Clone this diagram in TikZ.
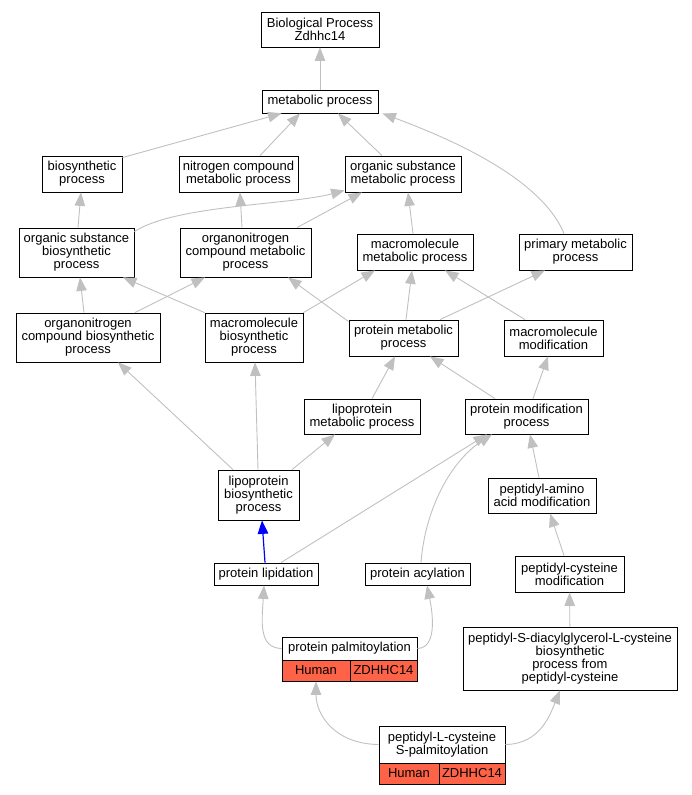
\documentclass[tikz,border=0pt]{standalone}
\usepackage{fontspec}
\setmainfont{Liberation Sans}
\usetikzlibrary{arrows.meta}
\definecolor{edgec}{RGB}{192,192,192}
\definecolor{tomatoc}{RGB}{255,99,71}
\begin{document}
\begin{tikzpicture}[x=1pt,y=-1pt,
  box/.style={draw=black, line width=0.8pt, fill=white, inner sep=0pt, align=center, font=\fontsize{13}{13}\selectfont},
  cell/.style={box, fill=tomatoc},
  edge/.style={draw=edgec, line width=0.9pt, -{Triangle[length=13.5pt,width=10.5pt]}},
  blueedge/.style={draw=blue, line width=1.2pt, -{Triangle[length=13.5pt,width=10.5pt]}}]
\useasboundingbox (0,0) rectangle (692,795);
% nodes
\node[box, minimum width=118, minimum height=35] (bp) at (320,29.5) {Biological Process\\Zdhhc14};
\node[box, minimum width=116, minimum height=23] (met) at (320,101.5) {metabolic process};
\node[box, minimum width=80, minimum height=36] (bio) at (82,174) {biosynthetic\\process};
\node[box, minimum width=119, minimum height=36] (nit) at (238.5,174) {nitrogen compound\\metabolic process};
\node[box, minimum width=116, minimum height=36] (osm) at (403,174) {organic substance\\metabolic process};
\node[box, minimum width=115, minimum height=49] (osb) at (76.5,252.5) {organic substance\\biosynthetic\\process};
\node[box, minimum width=131, minimum height=49] (ocm) at (245.5,252.5) {organonitrogen\\compound metabolic\\process};
\node[box, minimum width=116, minimum height=36] (mmp) at (415,252) {macromolecule\\metabolic process};
\node[box, minimum width=113, minimum height=36] (pmp) at (575.5,252) {primary metabolic\\process};
\node[box, minimum width=144, minimum height=49] (ocb) at (88,337.5) {organonitrogen\\compound biosynthetic\\process};
\node[box, minimum width=98, minimum height=49] (mbp) at (254,337.5) {macromolecule\\biosynthetic\\process};
\node[box, minimum width=109, minimum height=36] (prm) at (403.5,338) {protein metabolic\\process};
\node[box, minimum width=99, minimum height=36] (mmo) at (553.5,338) {macromolecule\\modification};
\node[box, minimum width=116, minimum height=35] (lmp) at (362,416.5) {lipoprotein\\metabolic process};
\node[box, minimum width=123, minimum height=35] (pmo) at (526.5,416.5) {protein modification\\process};
\node[box, minimum width=81, minimum height=50] (lbp) at (258.5,495) {lipoprotein\\biosynthetic\\process};
\node[box, minimum width=108, minimum height=35] (pam) at (542,495.5) {peptidyl-amino\\acid modification};
\node[box, minimum width=104, minimum height=22] (pli) at (266,574) {protein lipidation};
\node[box, minimum width=105, minimum height=22] (pac) at (417.5,574) {protein acylation};
\node[box, minimum width=109, minimum height=36] (pcm) at (569.5,574) {peptidyl-cysteine\\modification};
\node[box, minimum width=135, minimum height=23] (ppa) at (349.5,648.5) {protein palmitoylation};
\node[cell, minimum width=68, minimum height=21] (ppah) at (316,670.5) {Human};
\node[cell, minimum width=67, minimum height=21] (ppag) at (383.5,670.5) {ZDHHC14};
\node[box, minimum width=214, minimum height=63] (psd) at (570,658.5) {peptidyl-S-diacylglycerol-L-cysteine\\biosynthetic\\process from\\peptidyl-cysteine};
\node[box, minimum width=126, minimum height=37] (plc) at (442,744.5) {peptidyl-L-cysteine\\S-palmitoylation};
\node[cell, minimum width=60, minimum height=21] (plch) at (409,773.5) {Human};
\node[cell, minimum width=66, minimum height=21] (plcg) at (472,773.5) {ZDHHC14};
% edges
\draw[edge] (met) -- (bp);
\draw[edge] ([yshift=-2]bio.north east) -- ([xshift=20]met.south west);
\draw[edge] ([xshift=21.5]nit.north) -- ([xshift=-20]met.south);
\draw[edge] ([xshift=-21]osm.north) -- ([xshift=18]met.south);
\draw[edge] ([xshift=-11.5]pmp.north) .. controls (540,175) and (440,135) .. ([xshift=4]met.south east);
\draw[edge] ([xshift=1.5]osb.north) -- ([xshift=-1]bio.south);
\draw[edge] ([yshift=-4]osb.north east) .. controls (175,205) and (290,205) .. ([yshift=2]osm.south west);
\draw[edge] ([xshift=-3.5]ocm.north) -- ([xshift=1.5]nit.south);
\draw[edge] ([xshift=51.5]ocm.north) -- ([xshift=-41]osm.south);
\draw[edge] ([xshift=-2]mmp.north) -- ([xshift=5]osm.south);
\draw[edge] ([xshift=-4]ocb.north) -- ([xshift=3.5]osb.south);
\draw[edge] ([xshift=47]ocb.north) -- ([xshift=-40.5]ocm.south);
\draw[edge] (mbp.north west) -- ([xshift=46.5]osb.south);
\draw[edge] (mbp.north east) -- ([xshift=-40]mmp.south);
\draw[edge] ([yshift=-2]prm.north west) -- ([xshift=42.5]ocm.south);
\draw[edge] ([xshift=2.5]prm.north) -- ([xshift=-3]mmp.south);
\draw[edge] ([xshift=36.5]prm.north) -- ([xshift=-30.5]pmp.south);
\draw[edge] ([xshift=-28.5]mmo.north) -- ([xshift=30]mmp.south);
\draw[edge] ([xshift=10]lmp.north) -- ([xshift=-8.5]prm.south);
\draw[edge] ([xshift=-31.5]pmo.north) -- ([xshift=26.5]prm.south);
\draw[edge] ([xshift=6.5]pmo.north) -- ([xshift=-5.5]mmo.south);
\draw[edge] ([xshift=-25.5]lbp.north) -- ([xshift=30]ocb.south);
\draw[edge] ([xshift=-0.5]lbp.north) -- ([xshift=1]mbp.south);
\draw[edge] ([xshift=33.5]lbp.north) -- ([xshift=-27]lmp.south);
\draw[edge] ([xshift=-3]pam.north) -- ([xshift=3.5]pmo.south);
\draw[blueedge] ([xshift=-1]pli.north) -- ([xshift=3.5]lbp.south);
\draw[edge] ([xshift=15]pli.north) -- ([xshift=-39.5]pmo.south);
\draw[edge] ([xshift=3.5]pac.north) .. controls (425,510) and (450,462) .. ([xshift=-34.5]pmo.south);
\draw[edge] ([xshift=-5.5]pcm.north) -- ([xshift=8]pam.south);
\draw[edge] (ppa.west) .. controls (258,648) and (262,620) .. ([xshift=-2]pli.south);
\draw[edge] (ppa.east) .. controls (437,648) and (433,615) .. ([xshift=9.5]pac.south);
\draw[edge] (psd) -- (pcm);
\draw[edge] (plc.west) .. controls (335,744) and (316,715) .. (ppah.south);
\draw[edge] (plc.east) .. controls (540,744) and (550,715) .. ([xshift=-10]psd.south);
\end{tikzpicture}
\end{document}
